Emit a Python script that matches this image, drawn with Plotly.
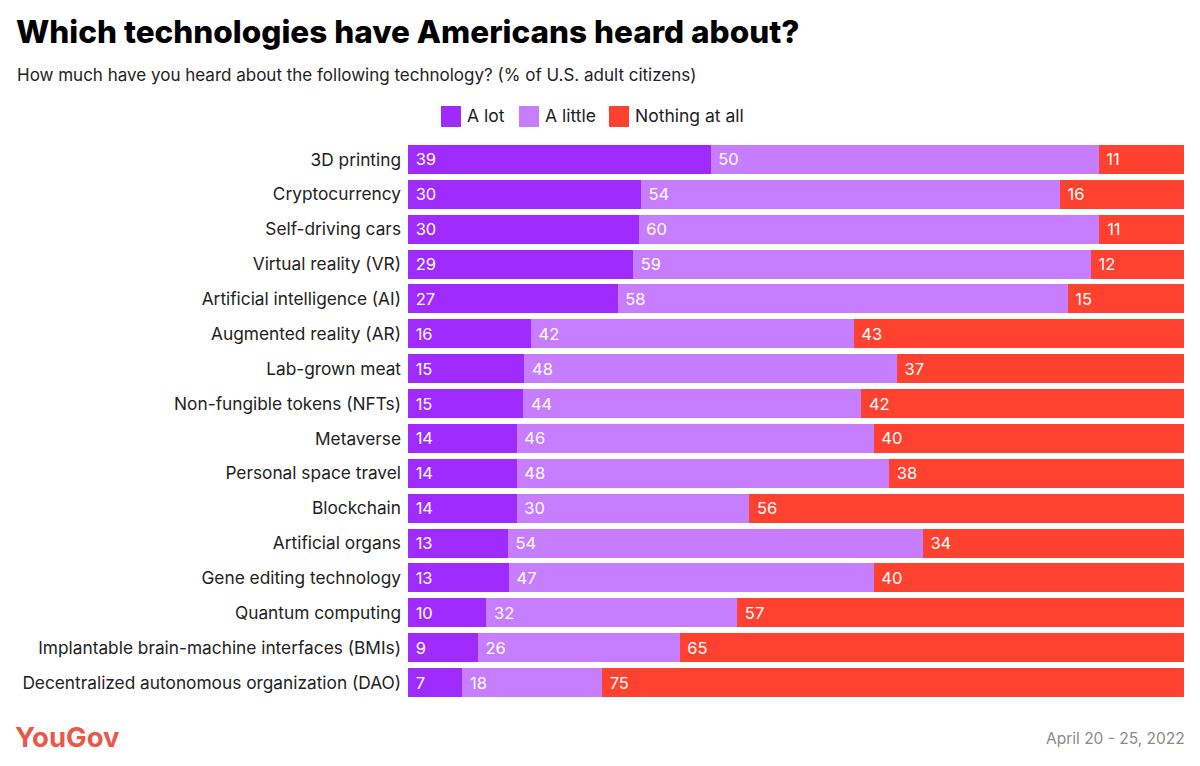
import plotly.graph_objects as go

categories = [
    "3D printing", "Cryptocurrency", "Self-driving cars", "Virtual reality (VR)",
    "Artificial intelligence (AI)", "Augmented reality (AR)", "Lab-grown meat",
    "Non-fungible tokens (NFTs)", "Metaverse", "Personal space travel", "Blockchain",
    "Artificial organs", "Gene editing technology", "Quantum computing",
    "Implantable brain-machine interfaces (BMIs)", "Decentralized autonomous organization (DAO)",
]
a_lot = [39, 30, 30, 29, 27, 16, 15, 15, 14, 14, 14, 13, 13, 10, 9, 7]
a_little = [50, 54, 60, 59, 58, 42, 48, 44, 46, 48, 30, 54, 47, 32, 26, 18]
nothing = [11, 16, 11, 12, 15, 43, 37, 42, 40, 38, 56, 34, 40, 57, 65, 75]

series_names = ["A lot", "A little", "Nothing at all"]
series_values = [a_lot, a_little, nothing]
series_colors = ["#a02bff", "#c77dff", "#ff4130"]

FONT = "Inter"
OFF = 8  # page body margin offset
W, H = 1192, 758
# plot area in screen pixels: x 408..1184, y 142..700
SL, SR, ST, SB = 408, 1184, 142, 700
ML, MT = SL - OFF, ST - OFF
MR, MB = W - (SR - OFF), H - (SB - OFF)
PW, PH = SR - SL, SB - ST


def px(X):
    return (X - SL) / PW


def py(Y):
    return 1 - (Y - ST) / PH


fig = go.Figure()
for name, vals, color in zip(series_names, series_values, series_colors):
    fig.add_trace(go.Bar(
        y=categories, x=vals, name=name, orientation="h",
        marker=dict(color=color, line=dict(width=0)),
        text=[str(v) for v in vals], texttemplate="\u00a0%{text}",
        textposition="inside", insidetextanchor="start", constraintext="none",
        textfont=dict(color="white", size=16.5, family=FONT),
        hoverinfo="skip", showlegend=False,
    ))

fig.update_layout(
    width=W, height=H,
    barmode="stack", barnorm="percent", bargap=0.17,
    plot_bgcolor="white", paper_bgcolor="white",
    margin=dict(l=ML, r=MR, t=MT, b=MB, autoexpand=False),
    font=dict(family=FONT, color="#222222"),
    title=dict(text="Which technologies have Americans heard about?",
               x=(16 - OFF) / W, xanchor="left", xref="container",
               y=1 - (32 - OFF) / H, yanchor="middle", yref="container",
               font=dict(size=31.5, color="#000000", family=FONT, weight=800)),
    xaxis=dict(visible=False, range=[0, 100], fixedrange=True),
    yaxis=dict(autorange="reversed", showgrid=False, showline=False, ticks="",
               ticklabelstandoff=6, automargin=False,
               tickfont=dict(size=17.3, color="#222222", family=FONT)),
    showlegend=False,
)

# subtitle
fig.add_annotation(text="How much have you heard about the following technology? (% of U.S. adult citizens)",
                   xref="paper", yref="paper", x=px(15), y=py(75),
                   showarrow=False, xanchor="left", yanchor="middle",
                   font=dict(size=17, color="#222222", family=FONT))

# custom legend
legend_items = [(441, 467), (519, 545), (609, 635)]
for (sx, tx), name, color in zip(legend_items, series_names, series_colors):
    fig.add_shape(type="rect", xref="paper", yref="paper",
                  x0=px(sx), x1=px(sx + 20), y0=py(127), y1=py(106),
                  fillcolor=color, line=dict(width=0))
    fig.add_annotation(text=name, xref="paper", yref="paper", x=px(tx - 2), y=py(116),
                       showarrow=False, xanchor="left", yanchor="middle",
                       font=dict(size=17.5, color="#222222", family=FONT))

# footer
fig.add_annotation(text="<b>YouGov</b>", xref="paper", yref="paper",
                   x=px(13), y=py(737), showarrow=False, xanchor="left", yanchor="middle",
                   font=dict(size=27.5, color="#e8594a", family=FONT))
fig.add_annotation(text="April 20 - 25, 2022", xref="paper", yref="paper",
                   x=px(1187), y=py(738), showarrow=False, xanchor="right", yanchor="middle",
                   font=dict(size=15.5, color="#8a8a8a", family=FONT))

fig.write_html("out.html")
